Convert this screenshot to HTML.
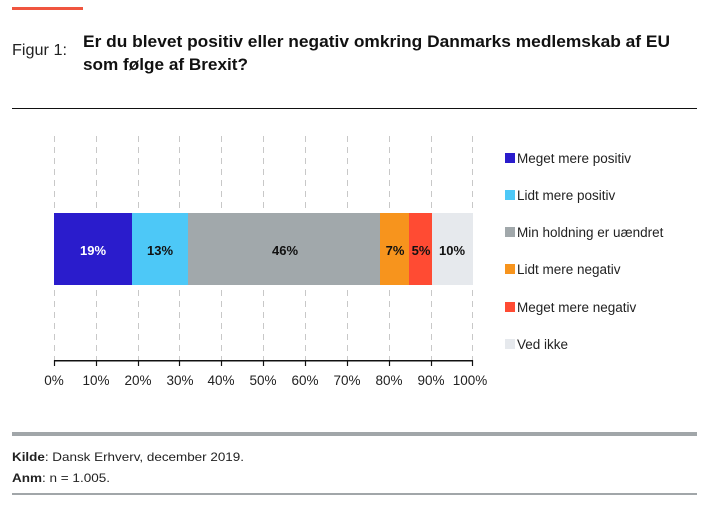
<!DOCTYPE html>
<html><head><meta charset="utf-8"><style>body{margin:0;background:#fff}svg{display:block}</style></head><body>
<svg width="720" height="508" viewBox="0 0 720 508" xmlns="http://www.w3.org/2000/svg" font-family="Liberation Sans, sans-serif">
<rect x="12" y="7" width="71" height="3" fill="#f0553f"/>
<text x="12" y="55" font-size="16" fill="#222" textLength="55" lengthAdjust="spacingAndGlyphs">Figur 1:</text>
<text x="83" y="47" font-size="17" font-weight="bold" fill="#111" textLength="587" lengthAdjust="spacingAndGlyphs">Er du blevet positiv eller negativ omkring Danmarks medlemskab af EU</text>
<text x="83" y="70" font-size="17" font-weight="bold" fill="#111" textLength="165" lengthAdjust="spacingAndGlyphs">som følge af Brexit?</text>
<rect x="12" y="108" width="685" height="1" fill="#111"/>
<g stroke="#c8c8c8" stroke-width="1" stroke-dasharray="6,5">
<line x1="54.5" y1="136" x2="54.5" y2="360"/><line x1="96.5" y1="136" x2="96.5" y2="360"/><line x1="138.5" y1="136" x2="138.5" y2="360"/><line x1="179.5" y1="136" x2="179.5" y2="360"/><line x1="221.5" y1="136" x2="221.5" y2="360"/><line x1="263.5" y1="136" x2="263.5" y2="360"/><line x1="305.5" y1="136" x2="305.5" y2="360"/><line x1="347.5" y1="136" x2="347.5" y2="360"/><line x1="389.5" y1="136" x2="389.5" y2="360"/><line x1="431.5" y1="136" x2="431.5" y2="360"/><line x1="472.5" y1="136" x2="472.5" y2="360"/>
</g>
<rect x="54" y="213" width="78" height="72" fill="#2a1ccc"/>
<rect x="132" y="213" width="56" height="72" fill="#4dc8f7"/>
<rect x="188" y="213" width="192" height="72" fill="#a1a8ab"/>
<rect x="380" y="213" width="29" height="72" fill="#f7941d"/>
<rect x="409" y="213" width="23" height="72" fill="#ff4b33"/>
<rect x="432" y="213" width="41" height="72" fill="#e6e9ed"/>
<g font-size="13" font-weight="bold" text-anchor="middle">
<text x="93" y="255" fill="#fff">19%</text>
<text x="160" y="255" fill="#111">13%</text>
<text x="285" y="255" fill="#111">46%</text>
<text x="395" y="255" fill="#111">7%</text>
<text x="421" y="255" fill="#111">5%</text>
<text x="452" y="255" fill="#111">10%</text>
</g>
<rect x="54" y="360" width="419" height="1.5" fill="#111"/>
<g stroke="#111" stroke-width="1.2">
<line x1="54.5" y1="360" x2="54.5" y2="366"/><line x1="96.5" y1="360" x2="96.5" y2="366"/><line x1="138.5" y1="360" x2="138.5" y2="366"/><line x1="179.5" y1="360" x2="179.5" y2="366"/><line x1="221.5" y1="360" x2="221.5" y2="366"/><line x1="263.5" y1="360" x2="263.5" y2="366"/><line x1="305.5" y1="360" x2="305.5" y2="366"/><line x1="347.5" y1="360" x2="347.5" y2="366"/><line x1="389.5" y1="360" x2="389.5" y2="366"/><line x1="431.5" y1="360" x2="431.5" y2="366"/><line x1="472.5" y1="360" x2="472.5" y2="366"/>
</g>
<g font-size="13.5" fill="#222" text-anchor="middle">
<text x="54" y="385">0%</text><text x="96" y="385">10%</text><text x="138" y="385">20%</text><text x="180" y="385">30%</text><text x="221" y="385">40%</text><text x="263" y="385">50%</text><text x="305" y="385">60%</text><text x="347" y="385">70%</text><text x="389" y="385">80%</text><text x="431" y="385">90%</text><text x="470" y="385">100%</text>
</g>
<g font-size="13.5" fill="#222">
<rect x="505" y="153" width="10" height="10" fill="#2a1ccc"/><text x="517" y="163">Meget mere positiv</text>
<rect x="505" y="190" width="10" height="10" fill="#4dc8f7"/><text x="517" y="200">Lidt mere positiv</text>
<rect x="505" y="227" width="10" height="10" fill="#a1a8ab"/><text x="517" y="237">Min holdning er uændret</text>
<rect x="505" y="264" width="10" height="10" fill="#f7941d"/><text x="517" y="274">Lidt mere negativ</text>
<rect x="505" y="302" width="10" height="10" fill="#ff4b33"/><text x="517" y="312">Meget mere negativ</text>
<rect x="505" y="339" width="10" height="10" fill="#e6e9ed"/><text x="517" y="349">Ved ikke</text>
</g>
<rect x="12" y="432" width="685" height="4" fill="#a1a6a9"/>
<text x="12" y="461" font-size="12" fill="#222" textLength="232" lengthAdjust="spacingAndGlyphs"><tspan font-weight="bold">Kilde</tspan>: Dansk Erhverv, december 2019.</text>
<text x="12" y="482" font-size="12" fill="#222" textLength="98" lengthAdjust="spacingAndGlyphs"><tspan font-weight="bold">Anm</tspan>: n = 1.005.</text>
<rect x="12" y="493" width="685" height="2" fill="#a1a6a9"/>
</svg>
</body></html>
